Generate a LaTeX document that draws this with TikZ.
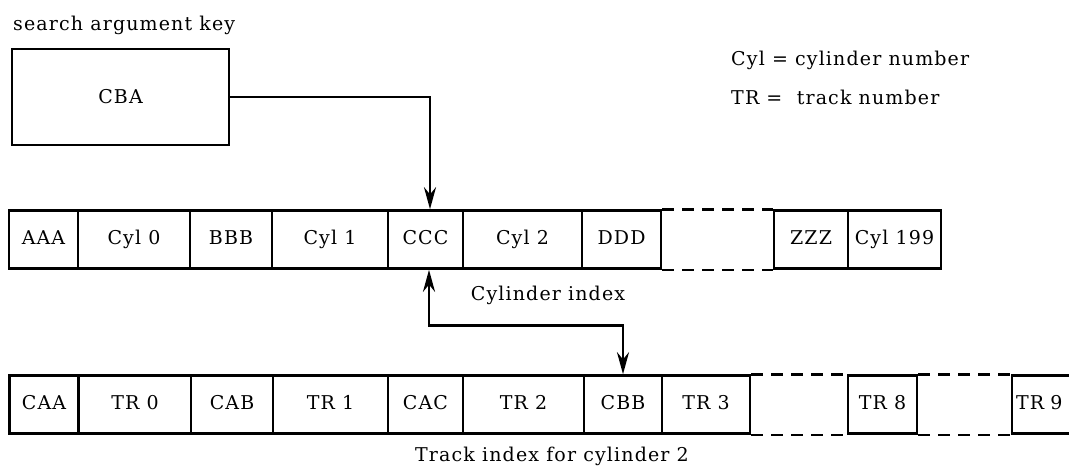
\documentclass[tikz,border=0pt]{standalone}
\usepackage{fontspec}
\setmainfont[LetterSpace=6]{DejaVu Serif}
\usepackage{tikz}
\usetikzlibrary{arrows.meta, positioning, calc}

\tikzset{
    cell/.style={draw, line width=2.6pt, minimum height=58pt, inner sep=0pt,
        text height=14pt, text depth=4pt},
    tip/.tip={Stealth[length=22pt, width=12pt]},
    link/.style={line width=2.8pt, -tip},
    gap/.style={line width=2.6pt, dash pattern=on 12pt off 8pt}
}

\begin{document}
\begin{tikzpicture}[x=1pt, y=-1pt, font=\fontsize{19}{22}\selectfont]
    \path[use as bounding box, clip] (0, 0) rectangle (1069, 472);

    % search argument
    \node[anchor=west, inner sep=0pt] (keytext) at (13, 25) {search argument key};
    \node[draw, line width=2.6pt, minimum width=217pt, minimum height=96pt] (CBA) at (120.5, 97) {CBA};

    % legend
    \node[anchor=west, inner sep=0pt] (leg1) at (731, 60) {Cyl = cylinder number};
    \node[anchor=west, inner sep=0pt] (leg2) at (731, 97) {TR =\ \ track number};

    % cylinder index
    \node[cell, minimum width=69pt] (AAA) at (43.5, 239.5) {AAA};
    \node[cell, minimum width=112pt] (C0) at (134, 239.5) {Cyl 0};
    \node[cell, minimum width=82pt] (BBB) at (231, 239.5) {BBB};
    \node[cell, minimum width=116pt] (C1) at (330, 239.5) {Cyl 1};
    \node[cell, minimum width=75pt] (CCC) at (425.5, 239.5) {CCC};
    \node[cell, minimum width=119pt] (C2) at (522.5, 239.5) {Cyl 2};
    \node[cell, minimum width=79pt] (DDD) at (621.5, 239.5) {DDD};
    \node[cell, minimum width=74pt] (ZZZ) at (811, 239.5) {ZZZ};
    \node[cell, minimum width=93pt] (C199) at (894.5, 239.5) {Cyl 199};
    \draw[gap] (DDD.north east) -- (ZZZ.north west);
    \draw[gap] (DDD.south east) -- (ZZZ.south west);
    \node (cyltext) at (548, 295) {Cylinder index};

    % track index
    \node[cell, minimum width=69pt] (CAA) at (44, 404.5) {CAA};
    \node[cell, minimum width=112pt] (T0) at (135, 404.5) {TR 0};
    \node[cell, minimum width=82pt] (CAB) at (232, 404.5) {CAB};
    \node[cell, minimum width=115pt] (T1) at (330.5, 404.5) {TR 1};
    \node[cell, minimum width=75pt] (CAC) at (425.5, 404.5) {CAC};
    \node[cell, minimum width=121pt] (T2) at (523.5, 404.5) {TR 2};
    \node[cell, minimum width=78pt] (CBB) at (623, 404.5) {CBB};
    \node[cell, minimum width=88pt] (T3) at (706, 404.5) {TR 3};
    \node[cell, minimum width=69pt] (T8) at (882.5, 404.5) {TR 8};
    \node[cell, text width=90pt, inner xsep=4pt, align=left] (T9) at (1061, 404.5) {TR 9};
    \draw[gap] (T3.north east) -- (T8.north west);
    \draw[gap] (T3.south east) -- (T8.south west);
    \draw[gap] (T8.north east) -- (T9.north west);
    \draw[gap] (T8.south east) -- (T9.south west);
    \node (tracktext) at (552, 456) {Track index for cylinder 2};

    % arrows
    \draw[link] (CBA.east) -| ([xshift=4.5pt]CCC.north);
    \draw[link, tip-tip] ([xshift=3.5pt]CCC.south) -- ++(0, 56) -| (CBB.north);
\end{tikzpicture}
\end{document}
